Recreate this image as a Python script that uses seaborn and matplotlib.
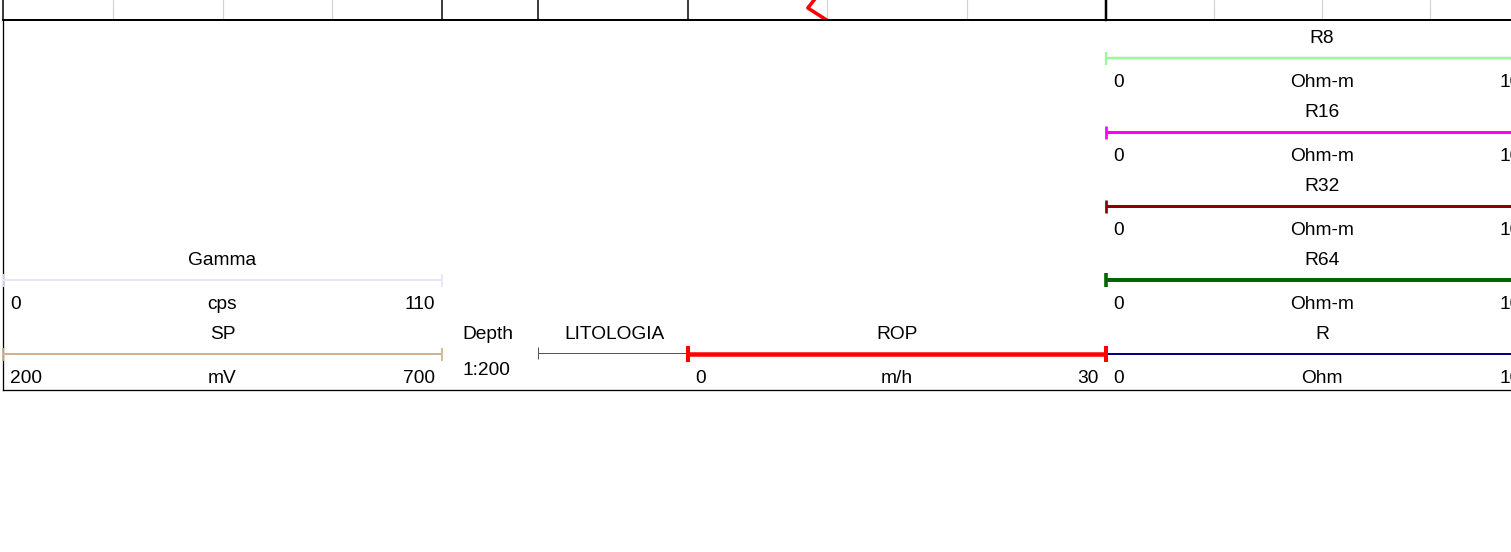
import numpy as np
import pandas as pd
import seaborn as sns
import matplotlib.pyplot as plt

# curve headers
curve_names = ['Gamma', 'SP', 'ROP', 'R8', 'R16', 'R32', 'R64', 'R']
curve_units = ['cps', 'mV', 'm/h', 'Ohm-m', 'Ohm-m', 'Ohm-m', 'Ohm-m', 'Ohm']
curve_min = [0, 200, 0, 0, 0, 0, 0, 0]
curve_max = [110, 700, 30, 100, 100, 100, 100, 100]

# other track titles
depth_title = 'Depth'
depth_scale = '1:200'
lith_title = 'LITOLOGIA'

# last bit of the ROP curve visible above the header
rop_depth = [1498.4, 1499.0, 1499.4, 1500.0]
rop_value = [9.8, 9.05, 8.6, 9.95]

# styles / layout (pixels)
curve_colors = ['#e6e6fa', '#d2b48c', '#ff0000', '#98fb98', '#ff00ff', '#8b0000', '#006400', '#000080']
curve_lw = [2, 2, 4.5, 2.5, 3, 3, 4, 2]
curve_cap = [13, 13, 16, 13, 13, 13, 14, 13]
curve_track = [0, 0, 3, 4, 4, 4, 4, 4]
curve_row = [1, 0, 0, 4, 3, 2, 1, 0]

W, H = 1511, 552
track_left = [3, 442, 538, 688, 1106]
track_right = [442, 538, 688, 1106, 1538]
track_grid = [4, 0, 0, 3, 4]
track_border = [1.5, 1.5, 1.5, 1.5, 2.5]
strip_h = 20
head_top, head_bot = 20, 390
row_h = 74

sns.set_theme(style='white', rc={'text.color': 'black'})
plt.rcParams['font.family'] = ['Liberation Sans', 'DejaVu Sans']
FS = 13.8
PX = 0.72  # px -> pt at dpi 100

fig = plt.figure(figsize=(W / 100, H / 100), dpi=100)


def px_axes(x0, y0, x1, y1):
    return fig.add_axes([x0 / W, 1 - y1 / H, (x1 - x0) / W, (y1 - y0) / H])


# --- strip with the bottom of the log body ---
for i in range(len(track_left)):
    ax = px_axes(track_left[i], 0, track_right[i], strip_h)
    ax.set_ylim(1500.0, 1499.0)
    if i == 3:
        ax.set_xlim(0, 30)
        df_rop = pd.DataFrame({'ROP': rop_value, 'Depth': rop_depth})
        sns.lineplot(data=df_rop, x='ROP', y='Depth', sort=False, estimator=None,
                     color='red', linewidth=3.5 * PX, ax=ax)
    else:
        ax.set_xlim(0, 1)
    lo, hi = ax.get_xlim()
    for g in np.linspace(lo, hi, track_grid[i] + 1)[1:-1] if track_grid[i] else []:
        ax.axvline(g, color='#d3d3d3', lw=1.2 * PX, zorder=0)
    ax.set_xticks([])
    ax.set_yticks([])
    ax.set_xlabel('')
    ax.set_ylabel('')
    for s in ['top', 'right']:
        ax.spines[s].set_visible(False)
    ax.spines['left'].set_color('black')
    ax.spines['left'].set_linewidth(track_border[i] * PX)
    ax.spines['bottom'].set_color('black')
    ax.spines['bottom'].set_linewidth(2 * PX)

# --- header frame ---
frame = px_axes(3, head_top, W + 5, head_bot)
frame.set_xticks([])
frame.set_yticks([])
frame.patch.set_alpha(0)
for s in ['top', 'right']:
    frame.spines[s].set_visible(False)
for s in ['left', 'bottom']:
    frame.spines[s].set_color('black')
    frame.spines[s].set_linewidth(1.3 * PX)

# --- header axes per track ---
head_axes = []
for i in range(len(track_left)):
    ax = px_axes(track_left[i], head_top, track_right[i], head_bot)
    ax.set_xlim(0, 1)
    ax.set_ylim(0, (head_bot - head_top) / row_h)
    ax.axis('off')
    ax.patch.set_alpha(0)
    head_axes.append(ax)
head_axes[3].set_zorder(5)  # ROP caps sit over the neighbouring lines

for k in range(len(curve_names)):
    ti = curve_track[k]
    ax = head_axes[ti]
    width = track_right[ti] - track_left[ti]
    pad = 7 / width
    r = curve_row[k]
    y_line = r + 36 / row_h
    y_name = r + 55.5 / row_h
    y_lab = r + 11.5 / row_h
    ax.plot([0, 1], [y_line, y_line], color=curve_colors[k], lw=curve_lw[k] * PX,
            marker='|', markersize=curve_cap[k] * PX, markeredgewidth=curve_lw[k] * PX * 0.9,
            solid_capstyle='butt', clip_on=False)
    ax.text(0.5, y_name, curve_names[k], ha='center', va='center', fontsize=FS)
    ax.text(pad, y_lab, str(curve_min[k]), ha='left', va='center', fontsize=FS)
    ax.text(0.5, y_lab, curve_units[k], ha='center', va='center', fontsize=FS)
    ax.text(1 - pad, y_lab, str(curve_max[k]), ha='right', va='center', fontsize=FS)

# depth track
ax = head_axes[1]
ax.text(0.48, 55.5 / row_h, depth_title, ha='center', va='center', fontsize=FS)
ax.text(0.46, 19.5 / row_h, depth_scale, ha='center', va='center', fontsize=FS)

# lithology track
ax = head_axes[2]
ax.text(0.507, 55.5 / row_h, lith_title, ha='center', va='center', fontsize=FS)
ax.plot([0, 1], [37 / row_h, 37 / row_h], color='#555555', lw=1 * PX,
        marker='|', markersize=12 * PX, markeredgewidth=1 * PX, clip_on=False)

fig.savefig('out.png', dpi=100)
